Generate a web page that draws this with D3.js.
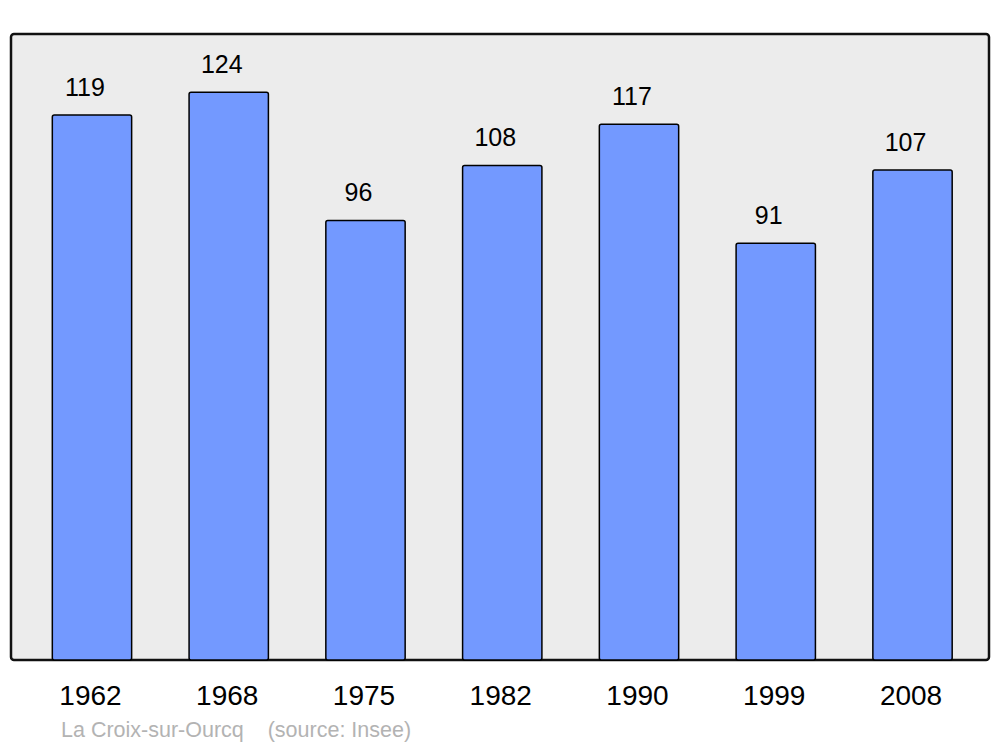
<!DOCTYPE html>
<html><head><meta charset="utf-8">
<script src="https://cdn.jsdelivr.net/npm/d3@7"></script>
<style>body{margin:0;background:#fff}svg{display:block}text{font-family:"Liberation Sans",Arial,sans-serif}</style>
</head><body>
<script>
const years = ["1962","1968","1975","1982","1990","1999","2008"];
const population = [119,124,96,108,117,91,107];
const caption = "La Croix-sur-Ourcq    (source: Insee)";

const W = 1000, H = 747;
const svg = d3.select("body").append("svg").attr("width", W).attr("height", H);

const panel = {x0: 11, x1: 989, y0: 34, y1: 660};
svg.append("rect").attr("x", panel.x0).attr("y", panel.y0)
  .attr("width", panel.x1 - panel.x0).attr("height", panel.y1 - panel.y0)
  .attr("rx", 3).attr("fill", "#ececec").attr("stroke", "#111").attr("stroke-width", 2.5);

const x = d3.scaleBand().domain(years).range([23.6, 980.9]).paddingInner(0.42).paddingOuter(0.21);
const y = d3.scaleLinear().domain([0, 136.7]).range([panel.y1, panel.y0]);

svg.selectAll("rect.bar").data(population).join("rect").attr("class", "bar")
  .attr("x", (d, i) => x(years[i]))
  .attr("y", d => y(d))
  .attr("width", x.bandwidth())
  .attr("height", d => y(0) - y(d))
  .attr("rx", 2)
  .attr("fill", "#7399ff").attr("stroke", "#000").attr("stroke-width", 1.5);

svg.selectAll("text.val").data(population).join("text").attr("class", "val")
  .attr("x", (d, i) => x(years[i]) + x.bandwidth() / 2 - 7)
  .attr("y", d => y(d) - 19)
  .attr("text-anchor", "middle").attr("font-size", 25).attr("fill", "#000")
  .text(d => d);

const xAxis = svg.append("g").attr("transform", `translate(0,${panel.y1})`)
  .call(d3.axisBottom(x).tickSize(0).tickPadding(0));
xAxis.select(".domain").remove();
xAxis.selectAll("text").attr("font-size", 28).attr("fill", "#000")
  .attr("dy", 0).attr("y", 45).attr("dx", -1.5)
  .style("font-family", '"Liberation Sans",Arial,sans-serif');

svg.append("text").attr("x", 61).attr("y", 737).attr("font-size", 21.5)
  .attr("fill", "#b3b3b3").attr("xml:space", "preserve").style("white-space", "pre").text(caption);
</script>
</body></html>
